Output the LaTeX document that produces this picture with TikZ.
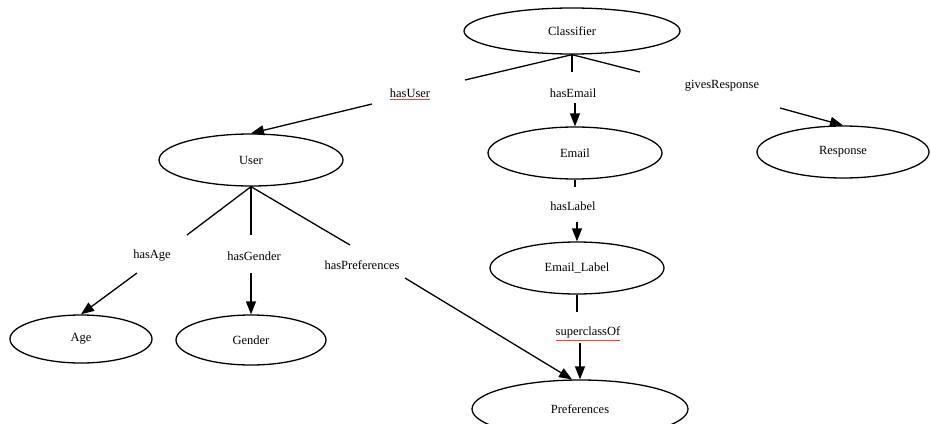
\documentclass[tikz,border=0pt]{standalone}
\usepackage{fontspec}
\setmainfont{Liberation Serif}
\usetikzlibrary{arrows.meta,shapes.geometric}
\begin{document}
\begin{tikzpicture}[x=1pt,y=-1pt,
  cls/.style={draw,ellipse,line width=1.3pt,inner sep=0pt,font=\fontsize{12.5}{14}\selectfont},
  lbl/.style={inner sep=0pt,font=\fontsize{12.5}{14}\selectfont},
  seg/.style={line width=1.3pt},
  arr/.style={line width=1.3pt,-{Triangle[length=13pt,width=10pt]}},
  spell/.style={red!75,line width=0.7pt}]
\useasboundingbox (0,0) rectangle (931,423);
% nodes
\node[cls,minimum width=216pt,minimum height=46pt] (cls) at (572,31) {Classifier};
\node[cls,minimum width=174pt,minimum height=52pt] (email) at (575,153) {Email};
\node[cls,minimum width=172pt,minimum height=52pt] (resp) at (843,152) {Response};
\node[cls,minimum width=184pt,minimum height=52pt] (user) at (251,160) {User};
\node[cls,minimum width=142pt,minimum height=48pt] (age) at (81,339) {Age};
\node[cls,minimum width=150pt,minimum height=50pt] (gender) at (251,340) {Gender};
\node[cls,minimum width=174pt,minimum height=52pt] (elabel) at (577,268) {Email\_Label};
\node[cls,minimum width=216pt,minimum height=58pt] (pref) at (580,409) {Preferences};
% labels
\node[lbl] (lUser) at (410,93) {hasUser};
\node[lbl] (lEmail) at (573,93) {hasEmail};
\node[lbl] (lResp) at (722,86) {givesResponse};
\node[lbl] (lAge) at (152,256) {hasAge};
\node[lbl] (lGender) at (254,256) {hasGender};
\node[lbl] (lPref) at (362,265) {hasPreferences};
\node[lbl] (lLabel) at (573,206) {hasLabel};
\node[lbl] (lSuper) at (588,332) {superclassOf};
% spell-check underlines
\draw[spell] ([yshift=-2pt]lUser.south west) -- ([yshift=-2pt]lUser.south east);
\draw[spell] ([yshift=-2pt]lSuper.south west) -- ([yshift=-2pt]lSuper.south east);
% gap coordinates
\coordinate (c1) at (465,80);   \coordinate (c2) at (372,104);
\coordinate (c3) at (572,72);   \coordinate (c4) at (575,103);
\coordinate (c5) at (640,72);   \coordinate (c6) at (780,108);
\coordinate (c7) at (187,235);  \coordinate (c8) at (137,273);
\coordinate (c9) at (251,235);  \coordinate (c10) at (251,273);
\coordinate (c11) at (350,245); \coordinate (c12) at (405,278);
\coordinate (c13) at (575,187); \coordinate (c14) at (577,222);
\coordinate (c15) at (577,312); \coordinate (c16) at (580,343);
% connectors
\draw[seg] (cls.south) -- (c1);  \draw[arr] (c2) -- (user.north);
\draw[seg] (cls.south) -- (c3);  \draw[arr] (c4) -- (c4 |- email.north);
\draw[seg] (cls.south) -- (c5);  \draw[arr] (c6) -- (resp.north);
\draw[seg] (user.south) -- (c7); \draw[arr] (c8) -- (age.north);
\draw[seg] (user.south) -- (c9); \draw[arr] (c10) -- (gender.north);
\draw[seg] (user.south) -- (c11);\draw[arr] (c12) -- (pref.105);
\draw[seg] (email.south) -- (c13);\draw[arr] (c14) -- (elabel.north);
\draw[seg] (elabel.south) -- (c15);\draw[arr] (c16) -- (pref.north);
\end{tikzpicture}
\end{document}
